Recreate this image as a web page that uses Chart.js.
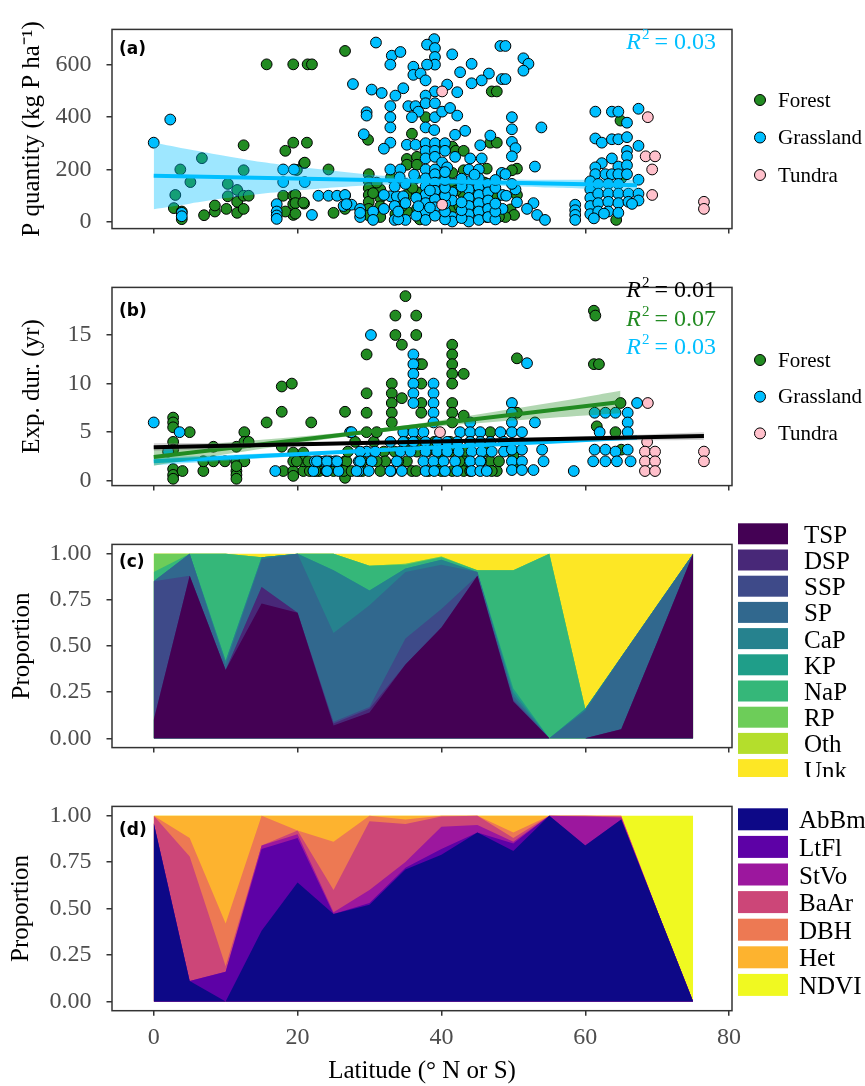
<!DOCTYPE html>
<html lang="en">
<head>
<meta charset="UTF-8">
<title>P quantity, experiment duration and methods by latitude</title>
<script src="https://cdn.jsdelivr.net/npm/chart.js"></script>
<style>
  body { margin: 0; background: #fff; }
  #wrap { position: relative; width: 865px; height: 1086px; overflow: hidden; }
  canvas { position: absolute; left: 0; }
</style>
</head>
<body>
<div id="wrap">
  <canvas id="chartA" width="865" height="258" style="top:0"></canvas>
  <canvas id="chartB" width="865" height="257" style="top:258px"></canvas>
  <canvas id="chartC" width="865" height="262" style="top:515px"></canvas>
  <canvas id="chartD" width="865" height="309" style="top:777px"></canvas>
</div>

<script>
// ---------- data: (a) P quantity, [latitude, kg P ha-1] ----------
const forestP = [
  [3.7,200],[6.7,243],[5.1,152],[3.0,103],[2.8,53],[3.9,40],[3.9,11],[7.0,26],[8.5,40],[8.5,63],
  [10.1,50],[10.3,145],[10.3,98],[11.6,122],[11.6,77],[11.6,35],[12.5,292],[12.5,197],[12.5,100],[12.5,50],[13.2,100],
  [15.7,600],[19.4,600],[21.4,600],[22.0,600],[18.3,271],[19.4,302],[21.3,302],[20.9,224],[18.0,100],[19.4,100],
  [19.4,68],[20.9,70],[19.4,27],[18.3,40],[19.7,103],[19.7,72],[20.8,74],[19.7,32],[21.0,226],[19.9,198],
  [24.3,200],[26.6,651],[25.0,35],[26.6,50],[26.6,100],
  [29.8,313],[29.9,182],[29.9,155],[29.9,129],[29.9,103],[29.9,77],[29.9,50],[29.9,25],[31.5,124],[31.5,92],
  [31.5,60],[31.5,19],[33.6,30],[35.9,336],[37.8,399],[35.2,240],[36.6,248],[35.2,218],[36.6,218],[36.4,166],
  [35.2,103],[36.6,113],[37.8,72],[36.6,50],[35.2,40],[39.4,113],[40.2,287],[41.5,287],[42.0,271],[43.1,271],
  [41.5,187],[41.7,145],[41.5,129],[41.5,50],[43.1,197],[43.1,103],[43.1,72],[40.4,124],[42.0,119],
  [45.0,50],[46.3,203],[46.3,19],[46.8,302],[47.7,302],[47.0,497],[47.7,497],[47.5,103],[47.8,98],
  [49.6,48],[50.1,27],[50.5,203],[49.8,197],[50.5,103],[48.9,19],[64.9,386],[65.0,166],[64.3,8],
  [33.0,170],[34.5,60],[38.5,30],[40.0,180],[42.5,60],[44.5,100],[46.0,150],[48.0,20],[36.0,130],[39.8,80],
  [31.0,150],[34.0,90],[37.0,10],[44.0,35],[45.8,85],[30.5,110],[38.8,140]
];
const grassP = [
  [0,302],[2.3,390],[3.9,35],[3.9,22],[17.1,68],[17.1,40],[17.1,25],[17.1,12],[18.0,200],[19.5,200],
  [18.0,152],[21.0,152],[22.0,27],[22.9,100],[24.3,100],[25.5,100],[26.6,103],[26.4,61],[27.5,66],[28.7,50],
  [28.7,19],[26.8,68],[28.7,35],[27.7,525],[29.2,334],[29.6,418],[29.6,405],[30.3,504],[31.7,491],[30.9,683],
  [33.1,633],[34.3,647],[32.9,599],[33.6,481],[34.7,509],[32.9,441],[32.9,399],[32.9,360],[32.9,302],[32.0,279],
  [32.9,200],[34.3,200],[32.9,98],[33.8,98],[34.7,98],[39.0,696],[38.0,675],[39.1,662],[41.5,638],[39.1,628],
  [39.1,599],[38.0,599],[36.1,591],[36.1,560],[37.1,565],[37.8,539],[40.8,523],[42.2,494],[39.1,497],[42.6,570],
  [44.2,602],[46.6,565],[45.6,539],[44.2,528],[48.2,670],[48.4,544],[35.4,441],[36.4,441],[37.8,481],[37.8,452],
  [39.1,452],[36.8,420],[35.9,399],[39.1,399],[40.1,420],[41.2,434],[42.2,405],[37.8,360],[39.0,350],[43.3,347],
  [41.9,332],[35.2,294],[36.4,294],[37.8,300],[39.1,300],[40.5,300],[37.8,271],[39.1,271],[40.5,271],[45.4,292],
  [46.8,329],[45.6,242],[44.0,242],[41.9,248],[37.8,242],[39.1,248],[40.1,227],[37.8,200],[39.1,200],[40.8,208],
  [43.8,200],[45.2,200],[48.4,187],
  [37.8,166],[37.8,135],[37.8,103],[37.8,72],[37.8,40],[37.8,8],[39.1,182],[39.1,150],[39.1,119],[39.1,87],
  [39.1,56],[39.1,24],[41.5,113],[41.5,82],[41.5,19],[41.5,2],[43.8,155],[43.8,124],[43.8,92],[43.8,61],
  [43.8,29],[43.8,2],[45.2,166],[45.2,135],[45.2,103],[45.2,72],[45.2,40],[45.2,8],[46.5,145],[46.5,113],
  [46.5,82],[46.5,50],[46.5,19],[33.5,135],[33.5,61],[33.5,8],[35.0,145],[35.0,72],[35.0,8],[36.5,92],
  [36.5,24],[32.0,103],[32.0,50],[30.5,40],[30.5,8],[48.5,103],[48.5,50],
  [34.0,10],[34.0,40],[34.2,170],[40.5,10],[40.5,40],[40.5,70],[40.5,100],[40.5,130],[40.5,160],[40.5,190],
  [42.8,15],[42.8,45],[42.8,75],[42.8,135],[42.8,165],[47.5,10],[47.5,40],[47.5,70],[47.5,130],[47.5,160],
  [36.2,180],[38.4,120],[38.4,55],[44.6,180],[36.8,60],
  [51.4,623],[52.1,602],[51.4,576],[48.9,670],[48.9,544],[49.8,399],[49.8,353],[49.8,305],[50.3,281],[49.8,250],
  [53.9,360],[53.0,211],[48.9,182],[50.3,124],[52.8,72],[51.9,50],[53.3,27],[54.4,8],[58.6,66],[58.6,45],
  [58.6,27],[58.6,8],[61.4,420],[63.7,420],[64.6,420],[65.8,378],[67.4,431],[61.4,318],[62.3,302],[63.7,315],
  [64.6,315],[65.8,323],[67.4,290],[65.8,271],[65.8,250],[63.7,242],[62.3,224],[64.6,211],[65.8,216],[61.4,208],
  [61.4,182],[62.8,182],[63.7,182],[64.6,182],[65.8,182],[67.4,161],[60.7,155],[60.7,124],[60.7,92],[60.7,61],
  [60.7,30],[61.8,145],[61.8,108],[61.8,72],[61.8,40],[63.2,145],[63.2,108],[63.2,77],[63.2,40],[64.6,145],
  [64.6,108],[64.6,72],[64.6,35],[66.0,108],[66.0,77],[67.4,108],[67.4,82],[66.5,69],[61.2,14],[62.6,32],
  [49.8,145],[50.5,75],[49.0,100]
];
const tundraP = [[40.1,497],[40.1,66],[68.7,399],[68.4,250],[69.7,250],[69.3,200],[69.3,103],[76.5,77],[76.5,50]];

// grassland fit in (a): line ends and ribbon read at these latitudes
const fitLatA = [0, 5, 10, 15, 20, 25, 30, 35, 40, 45, 50, 55, 60, 67.2];
const fitLineA = [[0, 176], [67.2, 140]];
const fitUpA = [303, 276, 251, 228, 210, 195, 180, 171, 166, 164, 162, 161, 161, 160];
const fitLoA = [49, 70, 91, 108, 120, 131, 140, 143, 142, 140, 136, 131, 127, 120];

// ---------- data: (b) experiment duration, [latitude, yr] ----------
const forestE = [
  [2.7,6.5],[2.7,6],[2.7,5.5],[5,5],[2.7,4],[2.7,3.2],[2.7,1.2],[2.7,0.6],[2.7,0.2],[4,1],[6.9,1],[8.3,3.5],
  [6.9,2],[8.3,2],[9.9,2],[11.5,1],[11.5,0.6],[11.5,0.2],[12.6,5],[12.6,4],[11.5,3.5],[13.2,4],[11.5,2],[12.6,2],
  [11.5,1.5],[15.7,6],[17.8,9.7],[19.2,10],[17.8,7.1],[21.9,6],[17.8,3.5],[18,1],[19.4,1],[20.8,1],[19.4,2.9],
  [19.4,2],[20.8,2.9],[20.8,2],[19.4,0.5],[19.9,2],[21.7,1],[26.6,2],[26.6,1.2],[26.6,0.3],[26.6,7.1],[26.8,2],
  [26.4,1],[23,1],[25,1],[29.6,13],[29.6,9],[29.6,7],[29.6,5],[29.6,3],[30.6,4],[31,5],[31.5,1],[32,3],[32.2,2],
  [33.1,10],[33.1,9],[33.1,8],[33.1,7],[33.1,6],[33.6,15],[33.6,17],[35,19],[34.5,14],[34.5,8.5],[35.2,2],[35.9,1],
  [36.5,17],[36.5,15],[36.9,12],[37.3,12],[37.2,10],[37.2,8],[37.2,7],[36.6,4],[36.6,3],
  [41.5,14],[41.5,13],[41.5,12],[41.5,11],[41.5,10],[41.5,8],[41.5,7],[41.5,6],[43.1,11],[43.1,6.7],[41.2,4],
  [41.2,3],[43.1,3],[43.1,2],[43.1,1],[46.8,5],[46.8,2],[47.7,1],[50.5,12.6],[50.5,7],[50,2.6],[50,1.8],
  [61.2,17.5],[61.4,17],[61.2,12],[61.9,12],[64.9,8],[61.6,5.6],[64.2,5],[65,3.2],
  [22.5,1],[24,1],[27.5,1],[29,1],[33,1],[36.5,1],[38.2,1],[40,1],[41.5,1],[44,1],[47,1],
  [21.5,2],[23,2],[24.5,2],[29,2],[31,2],[34,2],[39.5,2],[42.5,2],[45.5,2],[48,2],
  [27,3],[33.5,3],[38,3],[40,3],[46,3],[28,4],[35,4],[39,4],[44,4]
];
const grassE = [
  [0,6],[3.6,5],[2,3],[16.9,1],[22.2,1],[25.7,1],[28.5,1],[22.4,2],[23.8,2],[25.2,2],[27.3,5],[28.5,2],[29.6,3],
  [30.2,15],[36.1,13],[36.1,12],[36.1,11],[36.1,10],[36.1,9],[36.1,8],[38.9,10],[38.9,9],[38.9,8],[38.9,7],
  [38.9,6],[44,6],
  [27.5,5],[34.7,5],[36.1,5],[37.5,5],[42.6,5],[44,5],[45.4,5],[48.2,5],
  [32.9,4],[34.7,4],[36.1,4],[37.8,4],[39.4,4],[40.8,4],[42.2,4],[44,4],[45.4,4],[46.8,4],[48.7,4],
  [28.7,3],[30.8,3],[34.3,3],[35.7,3],[37.8,3],[39.4,3],[40.8,3],[42.4,3],[44.2,3],[45.6,3],[47,3],[48.7,3],
  [22.7,2],[24.1,2],[25.5,2],[28.7,2],[30.3,2],[33.8,2],[37.5,2],[38.9,2],[40.3,2],[41.9,2],[44,2],[45.4,2],
  [24.1,1],[28.2,1],[29.9,1],[32.9,1],[34.5,1],[37.8,1],[39,1],[40.5,1],[42.2,1],[44.2,1],[45.4,1],[46.3,1],
  [51.9,12.1],[67.2,8],[49.8,8],[49.8,7],[61.3,7],[62.8,7],[64.2,7],[65.9,7],[53,6],[49.8,6],[65.9,6],[62,5],
  [65.9,5],[49.8,5],[51.2,5],[49.8,3.2],[51.2,3.2],[54,3.2],[61.3,3.2],[62.8,3.2],[64.2,3],[65.9,3.2],[49.8,2],
  [51.2,2],[54.2,2],[61.1,2],[62.8,2],[64.4,2],[66.3,2],[49.8,1.1],[51.2,1.1],[52.8,1.1],[58.4,1]
];
const tundraE = [[39.8,5],[68.7,8],[68.6,4],[68.3,3],[69.7,3],[68.3,2],[69.7,2],[68.3,1],[69.7,1],[76.5,3],[76.5,2]];

// fits in (b): all data (black), forest (green), grassland (blue)
const fitLatAll = [0, 20, 40, 60, 76.5];
const fitLineAll = [[0, 3.45], [76.5, 4.6]];
const fitUpAll = [3.85, 3.95, 4.18, 4.57, 5.0];
const fitLoAll = [3.05, 3.55, 3.92, 4.13, 4.2];
const fitLatForest = [0, 10, 20, 30, 40, 50, 60, 64.9];
const fitLineForest = [[0, 2.45], [64.9, 8.1]];
const fitUpForest = [3.35, 3.92, 4.54, 5.26, 6.23, 7.4, 8.62, 9.25];
const fitLoForest = [1.55, 2.72, 3.84, 4.86, 5.63, 6.2, 6.72, 6.95];
const fitLatGrass = [0, 20, 40, 60, 67.2];
const fitLineGrass = [[0, 2.0], [67.2, 4.45]];
const fitUpGrass = [2.4, 2.93, 3.56, 4.37, 4.7];
const fitLoGrass = [1.6, 2.53, 3.36, 4.01, 4.2];

// ---------- data: (c) P pools and (d) methods, proportion per 5 degree band ----------
const bandLat = [0, 5, 10, 15, 20, 25, 30, 35, 40, 45, 50, 55, 60, 65, 70, 75];
const poolNames = ['TSP', 'DSP', 'SSP', 'SP', 'CaP', 'KP', 'NaP', 'RP', 'Oth', 'Unk'];
const TSP = [.10,.88,.37,.73,.68,.07,.14,.40,.60,.88,.20,0,0,.05,.52,1];
const DSP = [0,0,0,.09,0,.01,.02,0,0,0,0,0,0,0,0,0];
const SSP = [.75,0,0,0,0,.01,.01,.14,.10,0,.01,0,0,0,0,0];
const SP  = [0,.12,.03,.15,.32,.48,.55,.36,.24,.02,.02,0,.15,.39,.20,0];
const CaP = [0,0,.02,.01,0,.34,.08,.02,.027,0,.02,0,.01,0,0,0];
const KP  = [0,0,0,0,0,0,0,0,0,0,.02,0,0,0,0,0];
const NaP = [.05,0,.58,0,0,.09,.135,.02,.013,.01,.64,1,0,0,0,0];
const RP  = [.10,0,0,0,0,0,0,.005,.005,0,0,0,0,0,0,0];
const Oth = [0,0,0,0,0,0,0,0,0,0,0,0,0,0,0,0];
const Unk = [0,0,0,.02,0,0,.065,.055,.015,.09,.09,0,.84,.56,.28,0];
const poolColors = ['#440154','#482878','#3E4A89','#31688E','#26828E','#1F9E89','#35B779','#6DCD59','#B4DE2C','#FDE725'];

const methodNames = ['AbBm', 'LtFl', 'StVo', 'BaAr', 'DBH', 'Het', 'NDVI'];
const AbBm = [.96,.11,0,.38,.64,.47,.52,.71,.79,.91,.81,1,.84,.98,.49,0];
const LtFl = [0,0,.16,.44,.24,0,.01,.01,.03,0,.04,0,0,0,0,0];
const StVo = [0,0,0,.02,.02,.01,.07,.03,.12,.04,.01,0,.155,.01,0,0];
const BaAr = [.04,.67,.03,0,.02,.12,.37,.205,.055,.05,.02,0,.005,.005,0,0];
const DBH  = [0,.10,.23,.16,0,.26,.03,.025,.005,0,.03,0,0,.005,0,0];
const Het  = [0,.12,.58,0,.08,.14,0,.02,0,0,.09,0,0,0,0,0];
const NDVI = [0,0,0,0,0,0,0,0,0,0,0,0,0,0,.51,1];
const methodColors = ['#0D0887','#5D01A6','#9C179E','#CC4678','#ED7953','#FDB32F','#F0F921'];

const latTicks = [0, 20, 40, 60, 80];
const ecoNames = ['Forest', 'Grassland', 'Tundra'];
const ecoColors = ['#228B22', '#00BFFF', '#FFC0CB'];

// ---------- helpers ----------
const SERIF = '"Liberation Serif", "Times New Roman", serif';
const INK = '#333333';

const pts = arr => arr.map(([x, y]) => ({ x, y }));
const zipLat = (lats, vals) => lats.map((x, i) => ({ x, y: vals[i] }));

function xAxis(h, labels) {
  return {
    type: 'linear', min: -5.8, max: 80.4,
    afterBuildTicks: ax => { ax.ticks = latTicks.map(v => ({ value: v })); },
    afterFit: ax => { ax.height = h; },
    grid: { drawOnChartArea: false, drawTicks: true, tickLength: 5, color: INK, lineWidth: 1.5 },
    border: { display: false },
    ticks: { display: labels, color: '#4d4d4d', padding: 8, font: { family: SERIF, size: 24 } },
    title: { display: labels, text: 'Latitude (\u00B0 N or S)', color: '#000',
             font: { family: SERIF, size: 25 }, padding: { top: 0, bottom: 0 } }
  };
}

function yAxis(o) {
  return {
    type: 'linear', min: o.min, max: o.max, stacked: !!o.stacked,
    afterBuildTicks: ax => { ax.ticks = o.ticks.map(v => ({ value: v })); },
    afterFit: ax => { ax.width = 112; },
    grid: { drawOnChartArea: false, drawTicks: true, tickLength: 5.5, color: INK, lineWidth: 1.5 },
    border: { display: false },
    ticks: { color: '#4d4d4d', padding: 15, font: { family: SERIF, size: 24 }, callback: o.fmt },
    title: { display: true, text: o.title, color: '#000', font: { family: SERIF, size: 25 },
             padding: { top: o.titlePad, bottom: 0 } }
  };
}

function scatterSet(arr, color, order) {
  return { type: 'scatter', data: pts(arr), backgroundColor: color, borderColor: '#000',
           borderWidth: 1, pointRadius: 5.4, order };
}
function fitLine(ends, color) {
  return { type: 'line', data: pts(ends), borderColor: color, borderWidth: 4,
           pointRadius: 0, fill: false, order: 0 };
}
function ribbon(lats, up, lo, fillColor) {
  return [
    { type: 'line', data: zipLat(lats, up), borderWidth: 0, pointRadius: 0,
      fill: '+1', backgroundColor: fillColor, tension: 0.3, order: 0 },
    { type: 'line', data: zipLat(lats, lo), borderWidth: 0, pointRadius: 0,
      fill: false, tension: 0.3, order: 0 }
  ];
}

// frame, panel tag, R2 notes and the side legends
const decor = {
  id: 'decor',
  afterDraw(chart, args, o) {
    const { ctx, chartArea: a } = chart;
    ctx.save();
    ctx.strokeStyle = INK; ctx.lineWidth = 1.5;
    ctx.strokeRect(a.left, a.top, a.right - a.left, a.bottom - a.top);

    ctx.fillStyle = '#000';
    ctx.font = 'bold 17px "DejaVu Sans", sans-serif';
    ctx.textBaseline = 'middle'; ctx.textAlign = 'left';
    ctx.fillText(o.tag, a.left + 7, a.top + o.tagDy);

    (o.notes || []).forEach(n => {
      const big = '24px ' + SERIF, it = 'italic 24px ' + SERIF, sup = '15px ' + SERIF;
      const rest = ' = ' + n.text;
      ctx.font = big; const wRest = ctx.measureText(rest).width;
      ctx.font = sup; const wSup = ctx.measureText('2').width;
      ctx.font = it; const wR = ctx.measureText('R').width;
      let x = a.right - 16 - wRest - wSup - wR;
      ctx.fillStyle = n.color; ctx.textBaseline = 'alphabetic';
      ctx.font = it; ctx.fillText('R', x, n.y); x += wR + 1;
      ctx.font = sup; ctx.fillText('2', x, n.y - 10); x += wSup - 1;
      ctx.font = big; ctx.fillText(rest, x, n.y);
    });

    if (o.dots) {
      ctx.textBaseline = 'middle';
      ctx.font = '21px ' + SERIF;
      ecoNames.forEach((name, i) => {
        const y = o.dots.top + i * o.dots.step;
        ctx.beginPath(); ctx.arc(760, y, 5.5, 0, Math.PI * 2);
        ctx.fillStyle = ecoColors[i]; ctx.fill();
        ctx.strokeStyle = '#000'; ctx.lineWidth = 1; ctx.stroke();
        ctx.fillStyle = '#000'; ctx.fillText(name, 778, y + 1);
      });
    }

    if (o.boxes) {
      const b = o.boxes;
      ctx.textBaseline = 'middle';
      ctx.font = '25px ' + SERIF;
      b.names.forEach((name, i) => {
        const y = b.top + i * b.step;
        ctx.fillStyle = b.colors[i];
        ctx.fillRect(738, y, 50, b.h);
        ctx.fillStyle = '#000';
        ctx.fillText(name, b.textX, y + b.h / 2 + 2.5);
      });
    }
    ctx.restore();
  }
};
Chart.register(decor);

const base = { responsive: false, animation: false, events: [] };

// ---------- (a) ----------
new Chart(document.getElementById('chartA'), {
  type: 'scatter',
  data: { datasets: [
    fitLine(fitLineA, '#00BFFF'),
    ...ribbon(fitLatA, fitUpA, fitLoA, 'rgba(0,191,255,0.38)'),
    scatterSet(tundraP, ecoColors[2], 1),
    scatterSet(grassP, ecoColors[1], 2),
    scatterSet(forestP, ecoColors[0], 3)
  ] },
  options: { ...base,
    layout: { padding: { top: 10, right: 133, left: 0, bottom: 0 } },
    scales: {
      x: xAxis(7.3, false),
      y: yAxis({ min: -25, max: 733, ticks: [0, 200, 400, 600], titlePad: 17,
                 title: 'P quantity (kg P ha\u207B\u00B9)' })
    },
    plugins: { legend: { display: false }, tooltip: { enabled: false },
      decor: { tag: '(a)', tagDy: 20, notes: [{ text: '0.03', color: '#00BFFF', y: 49 }],
               dots: { top: 100, step: 37.5 } } }
  }
});

// ---------- (b) ----------
new Chart(document.getElementById('chartB'), {
  type: 'scatter',
  data: { datasets: [
    fitLine(fitLineAll, '#000000'),
    ...ribbon(fitLatAll, fitUpAll, fitLoAll, 'rgba(130,130,130,0.35)'),
    fitLine(fitLineForest, '#228B22'),
    ...ribbon(fitLatForest, fitUpForest, fitLoForest, 'rgba(34,139,34,0.35)'),
    fitLine(fitLineGrass, '#00BFFF'),
    ...ribbon(fitLatGrass, fitUpGrass, fitLoGrass, 'rgba(0,191,255,0.38)'),
    scatterSet(tundraE, ecoColors[2], 1),
    scatterSet(grassE, ecoColors[1], 2),
    scatterSet(forestE, ecoColors[0], 3)
  ] },
  options: { ...base,
    layout: { padding: { top: 10.3, right: 133, left: 0, bottom: 0 } },
    scales: {
      x: xAxis(6.7, false),
      y: yAxis({ min: -0.5, max: 19.9, ticks: [0, 5, 10, 15], titlePad: 17, title: 'Exp. dur. (yr)' })
    },
    plugins: { legend: { display: false }, tooltip: { enabled: false },
      decor: { tag: '(b)', tagDy: 24,
               notes: [{ text: '0.01', color: '#000000', y: 38.7 },
                       { text: '0.07', color: '#228B22', y: 67.7 },
                       { text: '0.03', color: '#00BFFF', y: 96.3 }],
               dots: { top: 102, step: 36.7 } } }
  }
});

// ---------- (c) and (d): stacked areas ----------
function areaSets(names, colors, series) {
  return names.map((name, i) => ({
    type: 'line', label: name, data: zipLat(bandLat, series[i]),
    backgroundColor: colors[i], borderWidth: 0, pointRadius: 0, fill: 'origin', tension: 0
  }));
}
const propFmt = v => v.toFixed(2);

new Chart(document.getElementById('chartC'), {
  type: 'line',
  data: { datasets: areaSets(poolNames, poolColors, [TSP, DSP, SSP, SP, CaP, KP, NaP, RP, Oth, Unk]) },
  options: { ...base,
    layout: { padding: { top: 10, right: 133, left: 0, bottom: 0 } },
    scales: {
      x: xAxis(11.3, false),
      y: yAxis({ min: -0.05, max: 1.05, stacked: true, ticks: [0, .25, .5, .75, 1], fmt: propFmt,
                 titlePad: 7, title: 'Proportion' })
    },
    plugins: { legend: { display: false }, tooltip: { enabled: false },
      decor: { tag: '(c)', tagDy: 18,
               boxes: { names: poolNames, colors: poolColors, top: 8.3, h: 21, step: 26.2, textX: 804 } } }
  }
});

new Chart(document.getElementById('chartD'), {
  type: 'line',
  data: { datasets: areaSets(methodNames, methodColors, [AbBm, LtFl, StVo, BaAr, DBH, Het, NDVI]) },
  options: { ...base,
    layout: { padding: { top: 6.3, right: 133, left: 0, bottom: 0 } },
    scales: {
      x: xAxis(75.3, true),
      y: yAxis({ min: -0.05, max: 1.05, stacked: true, ticks: [0, .25, .5, .75, 1], fmt: propFmt,
                 titlePad: 6, title: 'Proportion' })
    },
    plugins: { legend: { display: false }, tooltip: { enabled: false },
      decor: { tag: '(d)', tagDy: 24,
               boxes: { names: methodNames, colors: methodColors, top: 31.3, h: 22, step: 27.6, textX: 799 } } }
  }
});
</script>
</body>
</html>
